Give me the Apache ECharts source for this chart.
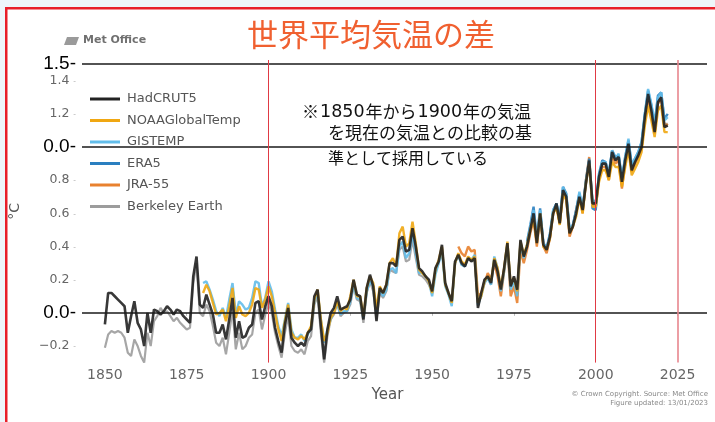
<!DOCTYPE html>
<html>
<head>
<meta charset="utf-8">
<script src="https://cdn.jsdelivr.net/npm/echarts@6/dist/echarts.min.js"></script>
<style>
html,body{margin:0;padding:0;background:#eef6fa;}
#c{width:715px;height:422px;}
</style>
</head>
<body>
<div id="c"></div>
<script>
// ---------- data ----------
const xTickLabels = [1850, 1875, 1900, 1925, 1950, 1975, 2000, 2025];
const yTickValues = [-0.2, 0, 0.2, 0.4, 0.6, 0.8, 1.0, 1.2, 1.4, 1.5];
const markedYears = [1900, 2000, 2025];
const markedLevels = [1.5, 1.0, 0.0];

const hadcrut5Start = 1850;
const hadcrut5 = [
 -0.07, 0.12, 0.12, 0.10, 0.08, 0.06, 0.04, -0.12, -0.02, 0.07,
 -0.06, -0.10, -0.20, 0.00, -0.12, 0.02, 0.01, -0.01, 0.01, 0.04,
 0.02, -0.01, 0.02, 0.01, -0.02, -0.04, -0.06, 0.22, 0.34, 0.05,
 0.03, 0.11, 0.05, -0.01, -0.12, -0.12, -0.07, -0.16, -0.04, 0.09,
 -0.15, -0.05, -0.15, -0.14, -0.09, -0.07, 0.06, 0.07, -0.04, 0.04,
 0.10, 0.04, -0.09, -0.17, -0.24, -0.07, 0.03, -0.15, -0.18, -0.20,
 -0.18, -0.20, -0.12, -0.10, 0.10, 0.14, -0.08, -0.28, -0.10, 0.00,
 0.03, 0.10, 0.02, 0.03, 0.04, 0.08, 0.20, 0.11, 0.10, -0.04,
 0.15, 0.23, 0.16, -0.05, 0.15, 0.12, 0.17, 0.30, 0.30, 0.28,
 0.44, 0.46, 0.37, 0.38, 0.51, 0.40, 0.27, 0.25, 0.22, 0.20,
 0.13, 0.27, 0.31, 0.41, 0.18, 0.12, 0.07, 0.31, 0.35, 0.30,
 0.28, 0.33, 0.31, 0.33, 0.03, 0.12, 0.20, 0.22, 0.18, 0.32,
 0.25, 0.14, 0.27, 0.42, 0.16, 0.22, 0.14, 0.44, 0.34, 0.40,
 0.50, 0.60, 0.42, 0.60, 0.41, 0.38, 0.46, 0.60, 0.66, 0.54,
 0.74, 0.70, 0.48, 0.52, 0.60, 0.70, 0.62, 0.78, 0.92, 0.66,
 0.66, 0.82, 0.90, 0.90, 0.82, 0.97, 0.92, 0.94, 0.79, 0.92,
 1.02, 0.86, 0.91, 0.95, 1.00, 1.18, 1.32, 1.22, 1.09, 1.27,
 1.30, 1.12, 1.13
];

const noaaStart = 1880;
const noaa = [
 0.12, 0.17, 0.13, 0.06, -0.01, 0.00, 0.02, -0.05, 0.04, 0.15,
 -0.03, 0.04, -0.01, -0.02, 0.00, 0.05, 0.15, 0.14, 0.03, 0.08,
 0.16, 0.10, 0.00, -0.10, -0.17, -0.05, 0.05, -0.12, -0.15, -0.16,
 -0.14, -0.16, -0.12, -0.08, 0.08, 0.14, -0.04, -0.17, -0.12, -0.03,
 0.00, 0.07, 0.01, 0.03, 0.02, 0.10, 0.20, 0.10, 0.10, -0.02,
 0.15, 0.22, 0.18, 0.02, 0.16, 0.12, 0.17, 0.30, 0.33, 0.28,
 0.48, 0.52, 0.40, 0.42, 0.55, 0.42, 0.26, 0.24, 0.22, 0.19,
 0.12, 0.26, 0.32, 0.40, 0.17, 0.12, 0.06, 0.30, 0.36, 0.31,
 0.29, 0.34, 0.32, 0.34, 0.06, 0.10, 0.19, 0.22, 0.19, 0.33,
 0.27, 0.15, 0.27, 0.43, 0.17, 0.21, 0.13, 0.43, 0.35, 0.41,
 0.50, 0.57, 0.42, 0.60, 0.40, 0.38, 0.45, 0.60, 0.64, 0.53,
 0.72, 0.68, 0.48, 0.52, 0.58, 0.69, 0.60, 0.78, 0.90, 0.64,
 0.64, 0.79, 0.86, 0.86, 0.80, 0.91, 0.88, 0.88, 0.76, 0.88,
 0.98, 0.83, 0.87, 0.91, 0.97, 1.13, 1.25, 1.16, 1.06, 1.22,
 1.25, 1.09, 1.09
];

const gistempStart = 1880;
const gistemp = [
 0.18, 0.19, 0.14, 0.08, 0.01, -0.02, 0.03, -0.03, 0.08, 0.18,
 -0.01, 0.07, 0.05, 0.02, 0.03, 0.09, 0.19, 0.18, 0.04, 0.09,
 0.19, 0.13, 0.02, -0.08, -0.14, -0.04, 0.06, -0.10, -0.15, -0.15,
 -0.13, -0.17, -0.13, -0.09, 0.07, 0.12, -0.04, -0.18, -0.10, -0.04,
 0.01, 0.06, -0.01, 0.01, 0.01, 0.07, 0.17, 0.09, 0.08, -0.03,
 0.13, 0.19, 0.16, 0.00, 0.14, 0.10, 0.14, 0.26, 0.27, 0.24,
 0.40, 0.43, 0.33, 0.36, 0.48, 0.36, 0.24, 0.24, 0.22, 0.19,
 0.10, 0.23, 0.30, 0.37, 0.16, 0.11, 0.04, 0.30, 0.35, 0.29,
 0.28, 0.33, 0.32, 0.35, 0.05, 0.10, 0.18, 0.21, 0.17, 0.34,
 0.27, 0.13, 0.25, 0.41, 0.14, 0.19, 0.10, 0.42, 0.33, 0.41,
 0.52, 0.62, 0.44, 0.62, 0.42, 0.39, 0.47, 0.62, 0.66, 0.56,
 0.76, 0.71, 0.50, 0.53, 0.61, 0.73, 0.63, 0.79, 0.92, 0.68,
 0.67, 0.83, 0.91, 0.91, 0.84, 0.98, 0.93, 0.96, 0.81, 0.94,
 1.05, 0.89, 0.93, 0.97, 1.03, 1.20, 1.35, 1.26, 1.14, 1.30,
 1.33, 1.16, 1.18
];

const era5Start = 1979;
const era5 = [
 0.43,
 0.53, 0.64, 0.45, 0.63, 0.42, 0.39, 0.48, 0.62, 0.66, 0.57,
 0.76, 0.72, 0.50, 0.53, 0.62, 0.72, 0.63, 0.80, 0.93, 0.63,
 0.62, 0.84, 0.92, 0.91, 0.84, 0.98, 0.94, 0.95, 0.80, 0.94,
 1.04, 0.89, 0.93, 0.97, 1.03, 1.20, 1.34, 1.25, 1.14, 1.31,
 1.33, 1.17, 1.20
];

const jra55Start = 1958;
const jra55 = [
 0.40, 0.36,
 0.34, 0.40, 0.37, 0.38, 0.10, 0.12, 0.18, 0.24, 0.20, 0.30,
 0.22, 0.10, 0.25, 0.40, 0.10, 0.16, 0.06, 0.38, 0.30, 0.38,
 0.48, 0.56, 0.40, 0.58, 0.40, 0.36, 0.45, 0.60, 0.64, 0.54,
 0.72, 0.69, 0.46, 0.52, 0.62, 0.71, 0.60, 0.80, 0.94, 0.66,
 0.64, 0.81, 0.88, 0.88, 0.80, 0.95, 0.90, 0.92, 0.75, 0.90,
 1.00, 0.85, 0.90, 0.94, 0.99, 1.16, 1.30, 1.20, 1.08, 1.26,
 1.29, 1.12, 1.14
];

const berkeleyStart = 1850;
const berkeley = [
 -0.21, -0.13, -0.11, -0.12, -0.11, -0.12, -0.15, -0.24, -0.26, -0.16,
 -0.20, -0.26, -0.30, -0.12, -0.20, -0.05, -0.02, 0.03, 0.00, 0.01,
 -0.02, -0.05, -0.03, -0.06, -0.08, -0.10, -0.09, 0.18, 0.30, 0.00,
 -0.02, 0.05, 0.01, -0.08, -0.18, -0.20, -0.15, -0.25, -0.12, 0.02,
 -0.22, -0.12, -0.22, -0.20, -0.15, -0.13, 0.00, 0.02, -0.10, -0.01,
 0.06, 0.00, -0.12, -0.20, -0.27, -0.12, -0.02, -0.20, -0.23, -0.24,
 -0.22, -0.25, -0.17, -0.14, 0.05, 0.10, -0.12, -0.30, -0.14, -0.04,
 -0.01, 0.06, -0.02, 0.00, 0.01, 0.05, 0.16, 0.08, 0.07, -0.06,
 0.12, 0.19, 0.13, -0.04, 0.12, 0.09, 0.13, 0.26, 0.25, 0.24,
 0.38, 0.40, 0.31, 0.32, 0.44, 0.33, 0.23, 0.22, 0.20, 0.17,
 0.12, 0.25, 0.30, 0.39, 0.17, 0.12, 0.06, 0.30, 0.35, 0.29,
 0.28, 0.33, 0.31, 0.32, 0.04, 0.11, 0.20, 0.21, 0.17, 0.31,
 0.25, 0.14, 0.27, 0.42, 0.16, 0.21, 0.13, 0.43, 0.34, 0.40,
 0.50, 0.59, 0.43, 0.60, 0.41, 0.38, 0.46, 0.61, 0.65, 0.54,
 0.74, 0.70, 0.49, 0.53, 0.60, 0.71, 0.62, 0.78, 0.91, 0.67,
 0.66, 0.82, 0.90, 0.90, 0.82, 0.96, 0.92, 0.95, 0.80, 0.93,
 1.02, 0.87, 0.91, 0.96, 1.01, 1.18, 1.31, 1.23, 1.11, 1.27,
 1.30, 1.14, 1.14
];

// ---------- chart ----------
function pairs(start, arr) { return arr.map((v, i) => [start + i, v]); }

const seriesDefs = [
  { name: 'Berkeley Earth', color: '#9c9c9c', start: berkeleyStart, data: berkeley, w: 2.2 },
  { name: 'JRA-55', color: '#e8812e', start: jra55Start, data: jra55, w: 2.4 },
  { name: 'ERA5', color: '#2a7fc0', start: era5Start, data: era5, w: 2.4 },
  { name: 'GISTEMP', color: '#62bdea', start: gistempStart, data: gistemp, w: 2.4 },
  { name: 'NOAAGlobalTemp', color: '#f0a712', start: noaaStart, data: noaa, w: 2.4 },
  { name: 'HadCRUT5', color: '#222222', start: hadcrut5Start, data: hadcrut5, w: 2.6 }
];
const legendOrder = ['HadCRUT5', 'NOAAGlobalTemp', 'GISTEMP', 'ERA5', 'JRA-55', 'Berkeley Earth'];

const series = seriesDefs.map(d => ({
  name: d.name, type: 'line', data: pairs(d.start, d.data),
  symbol: 'none', showSymbol: false, color: d.color,
  lineStyle: { color: d.color, width: d.w, opacity: 0.9 },
  z: 3
}));

series.push({
  name: 'overlay', type: 'line', data: [], silent: true, z: 5,
  markLine: {
    silent: true, symbol: ['none', 'none'], animation: false,
    label: { show: false },
    data: [
      ...markedLevels.map(v => ({ yAxis: v, lineStyle: { color: '#1a1a1a', width: 1.6, type: 'solid' } })),
      { xAxis: markedYears[0], lineStyle: { color: '#e03a44', width: 1, type: 'solid' } },
      { xAxis: markedYears[1], lineStyle: { color: '#e03a44', width: 1, type: 'solid' } },
      { xAxis: markedYears[2], lineStyle: { color: '#e8868e', width: 1.6, type: 'solid' } }
    ]
  }
});

const cjk = '"Noto Sans CJK JP"';
const chart = echarts.init(document.getElementById('c'), null, { renderer: 'canvas' });
chart.setOption({
  animation: false,
  backgroundColor: '#eef6fa',
  grid: { left: 78, right: 8, top: 60, bottom: 59.4, containLabel: false },
  xAxis: {
    type: 'value', min: 1843, max: 2034,
    axisLine: { show: false },
    splitLine: { show: false },
    axisTick: { show: true, length: 3, inside: false, customValues: xTickLabels, lineStyle: { color: '#bbb' } },
    axisLabel: { customValues: xTickLabels, margin: 6, color: '#666', fontSize: 14, fontFamily: 'DejaVu Sans',
      formatter: v => String(Math.round(v)) },
    name: 'Year', nameLocation: 'middle', nameGap: 22,
    nameTextStyle: { color: '#555', fontSize: 15, fontFamily: 'DejaVu Sans', padding: [0, 14, 0, 0] }
  },
  yAxis: {
    type: 'value', min: -0.3, max: 1.525,
    axisLine: { show: false },
    splitLine: { show: false },
    axisTick: { show: false },
    axisLabel: {
      customValues: yTickValues, margin: 6,
      formatter: function (v) {
        const r = Math.round(v * 10) / 10;
        if (r === 1.5) return '{b|1.5-}';
        if (r === 1.0 || r === 0) return '{b|0.0-}';
        const s = r < 0 ? '\u2212' + Math.abs(r).toFixed(1) : r.toFixed(1);
        return '{g|' + s + '}{t|-}';
      },
      rich: {
        b: { fontSize: 19, color: '#000', fontFamily: 'Liberation Sans' },
        g: { fontSize: 12.5, color: '#666', fontFamily: 'DejaVu Sans' },
        t: { fontSize: 8, color: '#aaa', padding: [0, 0, 0, 4] }
      }
    },
    name: '°C', nameLocation: 'middle', nameGap: 60, nameRotate: 90,
    nameTextStyle: { color: '#555', fontSize: 14, fontFamily: 'DejaVu Sans' }
  },
  legend: {
    data: legendOrder, orient: 'vertical', left: 85, top: 87,
    icon: 'rect', itemWidth: 30, itemHeight: 3, itemGap: 7.5,
    textStyle: { color: '#555', fontSize: 13, fontFamily: 'DejaVu Sans', lineHeight: 14, padding: [0, 0, 0, 2] }
  },
  graphic: [
    { type: 'rect', z: -10, shape: { x: 6, y: 9, width: 709, height: 413 }, style: { fill: '#ffffff' } },
    { type: 'rect', z: -9, shape: { x: 5, y: 7, width: 710, height: 2.5 }, style: { fill: '#e8202a' } },
    { type: 'rect', z: -9, shape: { x: 5, y: 7, width: 2.5, height: 415 }, style: { fill: '#e8202a' } },
    { type: 'text', left: 247, top: 19, style: { text: '世界平均気温の差', fill: '#f06030', font: '31px ' + cjk } },
    { type: 'text', left: 83, top: 35, style: { text: 'Met Office', fill: '#707070', font: 'bold 11px "DejaVu Sans"' } },
    { type: 'polygon', shape: { points: [[64, 45], [67, 37], [79, 37], [76, 45]] }, style: { fill: '#9a9a9a' } },
    { type: 'text', left: 302, top: 103, style: {
        text: '※{d|1850}年から{d|1900}年の気温', fill: '#111', font: '17px ' + cjk,
        rich: { d: { fontFamily: 'DejaVu Sans', fontSize: 17.5, fill: '#111', padding: [0, 1, 0, 1] } } } },
    { type: 'text', left: 328, top: 124, style: { text: 'を現在の気温との比較の基', fill: '#111', font: '17px ' + cjk } },
    { type: 'text', left: 328, top: 150, style: { text: '準として採用している', fill: '#111', font: '16px ' + cjk } },
    { type: 'text', right: 7, top: 391, style: { text: '© Crown Copyright. Source: Met Office', fill: '#888', font: '7px "DejaVu Sans"', align: 'right' } },
    { type: 'text', right: 7, top: 400, style: { text: 'Figure updated: 13/01/2023', fill: '#888', font: '7px "DejaVu Sans"', align: 'right' } }
  ],
  series: series
});
</script>
</body>
</html>
